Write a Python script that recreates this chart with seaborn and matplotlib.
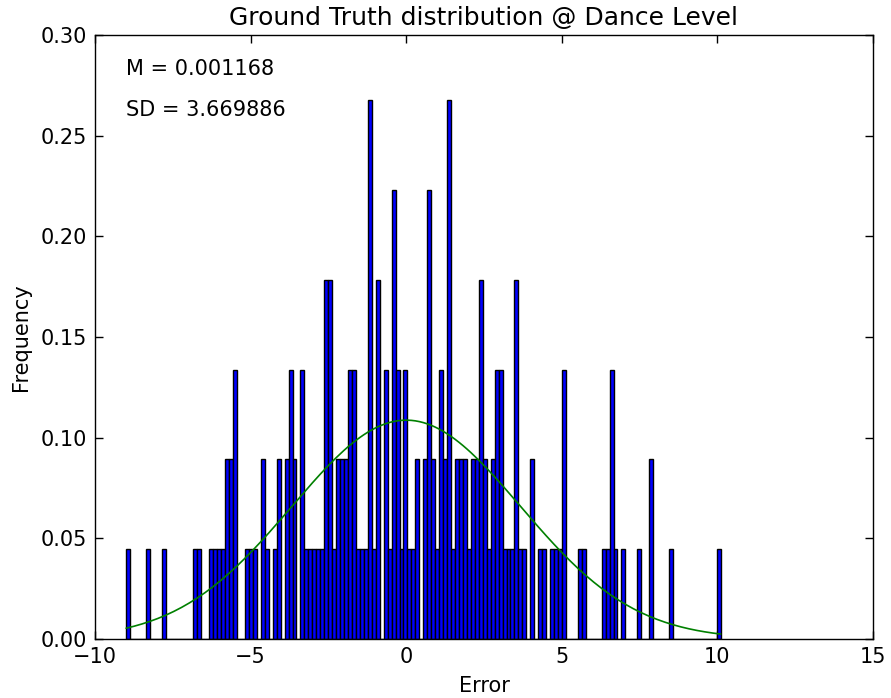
import numpy as np
import pandas as pd
import matplotlib
matplotlib.use("Agg")
import matplotlib.pyplot as plt
import seaborn as sns
from matplotlib.ticker import FormatStrFormatter

# ---- data ----
# error values (histogram bar positions) and how many samples fall there
error_values = [
    -8.94, -8.30, -7.79, -6.77, -6.64, -6.26, -6.14, -6.01, -5.88, -5.75,
    -5.63, -5.50, -5.12, -4.99, -4.86, -4.61, -4.48, -4.23, -4.10,
    -3.84, -3.72, -3.59, -3.33, -3.21, -3.08, -2.95, -2.82, -2.70,
    -2.57, -2.44, -2.32, -2.19, -2.06, -1.93, -1.81, -1.68, -1.55, -1.42,
    -1.30, -1.17, -1.04, -0.91, -0.66, -0.53, -0.41, -0.28, -0.15, -0.02,
    0.10, 0.23, 0.36, 0.61, 0.74, 0.87, 1.00, 1.12, 1.25, 1.38,
    1.51, 1.63, 1.76, 1.89, 2.01, 2.14, 2.27, 2.40, 2.52, 2.65,
    2.78, 2.91, 3.03, 3.16, 3.29, 3.42, 3.54, 3.67, 3.80, 4.05,
    4.31, 4.43, 4.69, 4.82, 4.94, 5.07, 5.58, 5.71, 6.34, 6.47,
    6.60, 6.73, 6.98, 7.49, 7.87, 8.51, 10.04,
]
value_counts = [
    1, 1, 1, 1, 1, 1, 1, 1, 1, 2,
    2, 3, 1, 1, 1, 2, 1, 1, 2,
    2, 3, 2, 3, 1, 1, 1, 1, 1,
    4, 4, 1, 2, 2, 2, 3, 3, 1, 1,
    1, 6, 1, 4, 3, 1, 5, 3, 1, 3,
    1, 1, 2, 2, 5, 2, 1, 3, 2, 6,
    1, 2, 2, 2, 1, 2, 2, 4, 2, 1,
    2, 3, 3, 1, 1, 1, 4, 1, 1, 2,
    1, 1, 1, 1, 1, 3, 1, 1, 1, 1,
    3, 1, 1, 1, 2, 1, 1,
]
mean_value = 0.001168
sd_value = 3.669886
n_bins = 150
data_range = (-9.0, 10.1)

title_text = "Ground Truth distribution @ Dance Level"
x_label = "Error"
y_label = "Frequency"
x_ticks = [-10, -5, 0, 5, 10, 15]
y_ticks = [0.00, 0.05, 0.10, 0.15, 0.20, 0.25, 0.30]

errors = np.repeat(np.array(error_values), np.array(value_counts))
df = pd.DataFrame({"Error": errors})

# ---- style ----
sns.set_style("white")
plt.rcParams.update({
    "font.family": ["DejaVu Sans"],
    "font.size": 15,
    "text.color": "black",
    "axes.labelcolor": "black",
    "xtick.direction": "in",
    "ytick.direction": "in",
    "xtick.top": True,
    "ytick.right": True,
    "xtick.bottom": True,
    "ytick.left": True,
    "xtick.major.size": 5.5,
    "ytick.major.size": 5.5,
    "xtick.major.width": 1.0,
    "ytick.major.width": 1.0,
    "xtick.major.pad": 5.5,
    "ytick.major.pad": 5.5,
    "xtick.color": "black",
    "ytick.color": "black",
    "xtick.labelcolor": "black",
    "ytick.labelcolor": "black",
    "axes.edgecolor": "black",
    "axes.linewidth": 1.0,
    "xtick.labelsize": 15,
    "ytick.labelsize": 15,
})

fig = plt.figure(figsize=(8.91, 6.98), dpi=100)
ax = fig.add_axes([0.1066, 0.0845, 0.8732, 0.8653])

sns.histplot(data=df, x="Error", bins=n_bins, binrange=data_range,
             stat="density", color="blue", edgecolor="black",
             linewidth=1.0, alpha=1.0, ax=ax)

edges = np.histogram_bin_edges(errors, bins=n_bins, range=data_range)
pdf = np.exp(-0.5 * ((edges - mean_value) / sd_value) ** 2) / (sd_value * np.sqrt(2 * np.pi))
sns.lineplot(x=edges, y=pdf, color="green", linewidth=1.2, ax=ax, sort=False)

ax.set_xlim(-10, 15)
ax.set_ylim(0, 0.30)
ax.set_xticks(x_ticks)
ax.set_yticks(y_ticks)
ax.yaxis.set_major_formatter(FormatStrFormatter("%.2f"))
ax.set_xlabel(x_label, fontsize=15, color="black", labelpad=7)
ax.set_ylabel(y_label, fontsize=15, color="black", labelpad=7)
ax.set_title(title_text, fontsize=18, color="black", pad=7)
for s in ax.spines.values():
    s.set_visible(True)
    s.set_color("black")

ax.text(-9, 0.28, "M = %f" % mean_value, fontsize=15, color="black")
ax.text(-9, 0.26, "SD = %f" % sd_value, fontsize=15, color="black")

fig.savefig("out.png", dpi=100)
